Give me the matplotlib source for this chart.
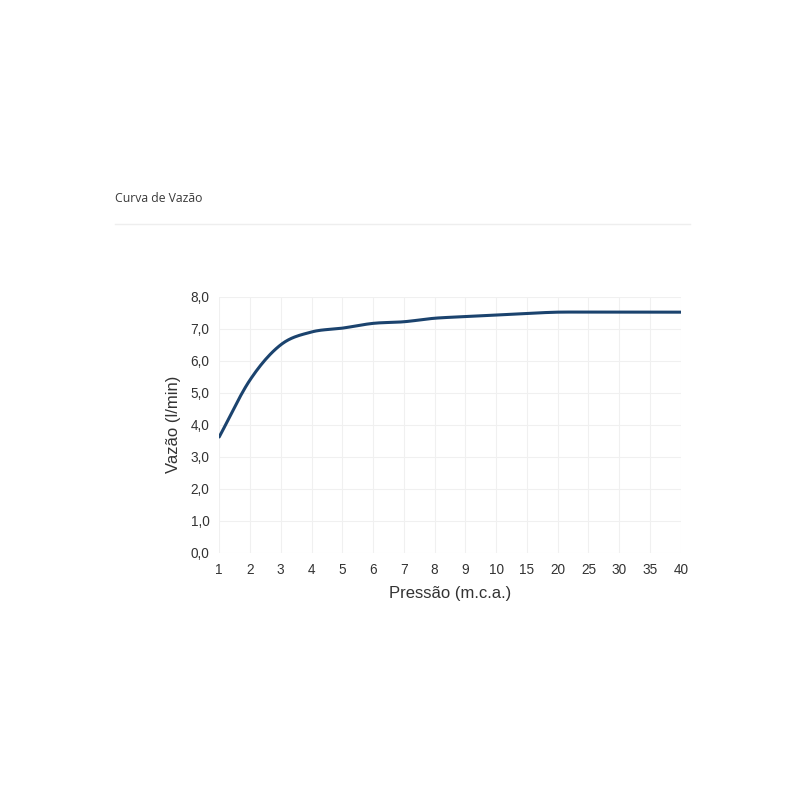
import numpy as np
import matplotlib
matplotlib.use("Agg")
import matplotlib.pyplot as plt

pressao = ["1", "2", "3", "4", "5", "6", "7", "8", "9", "10", "15", "20", "25", "30", "35", "40"]
vazao = [3.62, 5.4, 6.5, 6.9, 7.02, 7.17, 7.22, 7.33, 7.38, 7.43, 7.48, 7.52, 7.52, 7.52, 7.52, 7.52]
yticks = [0, 1, 2, 3, 4, 5, 6, 7, 8]

LINE_C = "#1b436e"
GRID_C = "#f0f0f0"
TXT_C = "#333333"
plt.rcParams["font.family"] = ["Liberation Sans", "DejaVu Sans"]


def smooth(xs, ys, n=20):
    """Cubic Hermite (Catmull-Rom style tangents) just for the drawn curve."""
    xs, ys = np.asarray(xs, float), np.asarray(ys, float)
    m = np.gradient(ys, xs)
    out_x, out_y = [], []
    for i in range(len(xs) - 1):
        h = xs[i + 1] - xs[i]
        t = np.linspace(0, 1, n, endpoint=False)
        h00 = 2 * t**3 - 3 * t**2 + 1
        h10 = t**3 - 2 * t**2 + t
        h01 = -2 * t**3 + 3 * t**2
        h11 = t**3 - t**2
        out_x.append(xs[i] + t * h)
        out_y.append(h00 * ys[i] + h10 * h * m[i] + h01 * ys[i + 1] + h11 * h * m[i + 1])
    out_x.append([xs[-1]]); out_y.append([ys[-1]])
    return np.concatenate(out_x), np.concatenate(out_y)


fig = plt.figure(figsize=(8, 8), dpi=100)
fig.text(0.144, 0.752, "Curva de Vazão", fontsize=8.8, color="#3a3a3a", family="Open Sans",
         va="center", ha="left")
fig.add_artist(plt.Line2D([0.144, 0.862], [0.72, 0.72], color="#eeeeee", lw=1))

ax = fig.add_axes([0.274, 0.309, 0.577, 0.32])
pos = np.arange(len(pressao))
sx, sy = smooth(pos, vazao)
ax.plot(sx, sy, color=LINE_C, lw=2.2, solid_capstyle="round")

ax.set_xlim(0, len(pressao) - 1)
ax.set_ylim(0, 8)
ax.set_xticks(pos)
ax.set_xticklabels(pressao)
ax.set_yticks(yticks)
ax.set_yticklabels([f"{v:.1f}".replace(".", ",") for v in yticks])
ax.tick_params(length=0, labelsize=9.8, colors=TXT_C, pad=7)
ax.grid(True, color=GRID_C, lw=0.8)
ax.set_axisbelow(True)
for s in ax.spines.values():
    s.set_visible(False)
ax.set_xlabel("Pressão (m.c.a.)", fontsize=12, color=TXT_C, labelpad=7)
ax.set_ylabel("Vazão (l/min)", fontsize=12, color=TXT_C, labelpad=7)

fig.savefig("out.png", dpi=100, facecolor="white")
